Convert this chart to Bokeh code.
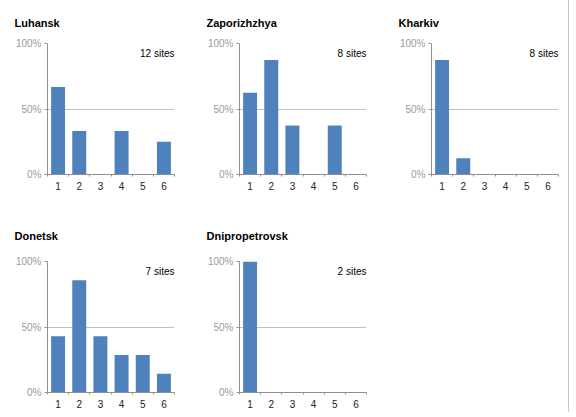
from bokeh.plotting import figure
from bokeh.layouts import gridplot
from bokeh.models import FixedTicker, Label, Range1d, ColumnDataSource
from bokeh.embed import file_html
from bokeh.resources import INLINE

regions = ["Luhansk", "Zaporizhzhya", "Kharkiv", "Donetsk", "Dnipropetrovsk"]
sites = [12, 8, 8, 7, 2]
categories = [1, 2, 3, 4, 5, 6]
tick_labels = ["1", "2", "3", "4", "5", "6"]
luhansk = [66.7, 33.3, 0, 33.3, 0, 25.0]
zaporizhzhya = [62.5, 87.5, 37.5, 0, 37.5, 0]
kharkiv = [87.5, 12.5, 0, 0, 0, 0]
donetsk = [42.9, 85.7, 42.9, 28.6, 28.6, 14.3]
dnipropetrovsk = [100, 0, 0, 0, 0, 0]
y_ticks = [0, 50, 100]
y_tick_labels = ["0%", "50%", "100%"]

series = [luhansk, zaporizhzhya, kharkiv, donetsk, dnipropetrovsk]
# (width, height, left, top) per panel
widths = [200, 192, 176, 200, 192]
heights = [206, 206, 206, 206, 206]
lefts = [47, 39, 39, 47, 39]
tops = [43, 43, 43, 55, 55]
standoffs = [29, 29, 29, 39, 39]

FONT = "Liberation Sans"
BAR = "#4f81bd"
FW, FH = 127, 131

figs = []
for i, (name, n, vals) in enumerate(zip(regions, sites, series)):
    w, h, l, t = widths[i], heights[i], lefts[i], tops[i]
    p = figure(width=w, height=h, output_backend="svg", toolbar_location=None,
               x_range=Range1d(0.5, 6.5), y_range=Range1d(0, 100),
               min_border_left=l, min_border_right=w - l - FW,
               min_border_top=t, min_border_bottom=h - t - FH)
    p.outline_line_color = None
    p.background_fill_color = "white"
    p.border_fill_color = "white"
    src = ColumnDataSource(dict(x=categories, top=vals))
    p.vbar(x="x", top="top", width=0.66, source=src, fill_color=BAR, line_color=None)

    p.title.text = name
    p.title.text_font = FONT
    p.title.text_font_size = "11px"
    p.title.text_font_style = "bold"
    p.title.text_color = "#000000"
    p.title.align = "left"
    p.title.offset = -33
    p.title.standoff = standoffs[i]

    p.xaxis.ticker = FixedTicker(ticks=categories, minor_ticks=[0.5, 1.5, 2.5, 3.5, 4.5, 5.5, 6.5])
    p.xaxis.major_label_overrides = {c: t for c, t in zip(categories, tick_labels)}
    p.xaxis.major_tick_out = 0
    p.xaxis.major_tick_in = 0
    p.xaxis.minor_tick_out = 2
    p.xaxis.minor_tick_in = 0
    p.xaxis.minor_tick_line_color = "#909090"
    p.xaxis.axis_line_color = "#909090"
    p.xaxis.major_label_text_font = FONT
    p.xaxis.major_label_text_font_size = "10px"
    p.xaxis.major_label_text_color = "#222222"
    p.xaxis.major_label_standoff = 5

    p.yaxis.ticker = FixedTicker(ticks=y_ticks)
    p.yaxis.major_label_overrides = {t: l for t, l in zip(y_ticks, y_tick_labels)}
    p.yaxis.major_tick_out = 3
    p.yaxis.major_tick_in = 0
    p.yaxis.minor_tick_line_color = None
    p.yaxis.major_tick_line_color = "#909090"
    p.yaxis.axis_line_color = "#909090"
    p.yaxis.major_label_text_font = FONT
    p.yaxis.major_label_text_font_size = "10px"
    p.yaxis.major_label_text_color = "#9a9a9a"
    p.yaxis.major_label_standoff = 3

    p.xgrid.grid_line_color = None
    p.ygrid.ticker = FixedTicker(ticks=[50, 100])
    p.ygrid.grid_line_color = "#c0c0c0"

    p.add_layout(Label(x=6.5, y=100, y_offset=-4, text=f"{n} sites",
                       text_align="right", text_baseline="top",
                       text_font=FONT, text_font_size="10px", text_color="#000000"))
    figs.append(p)

grid = gridplot([[figs[0], figs[1], figs[2]], [figs[3], figs[4], None]],
                toolbar_location=None)
grid.styles = {"border-right": "1px solid #c8c8c8"}

open("out.html", "w").write(file_html(grid, INLINE))
